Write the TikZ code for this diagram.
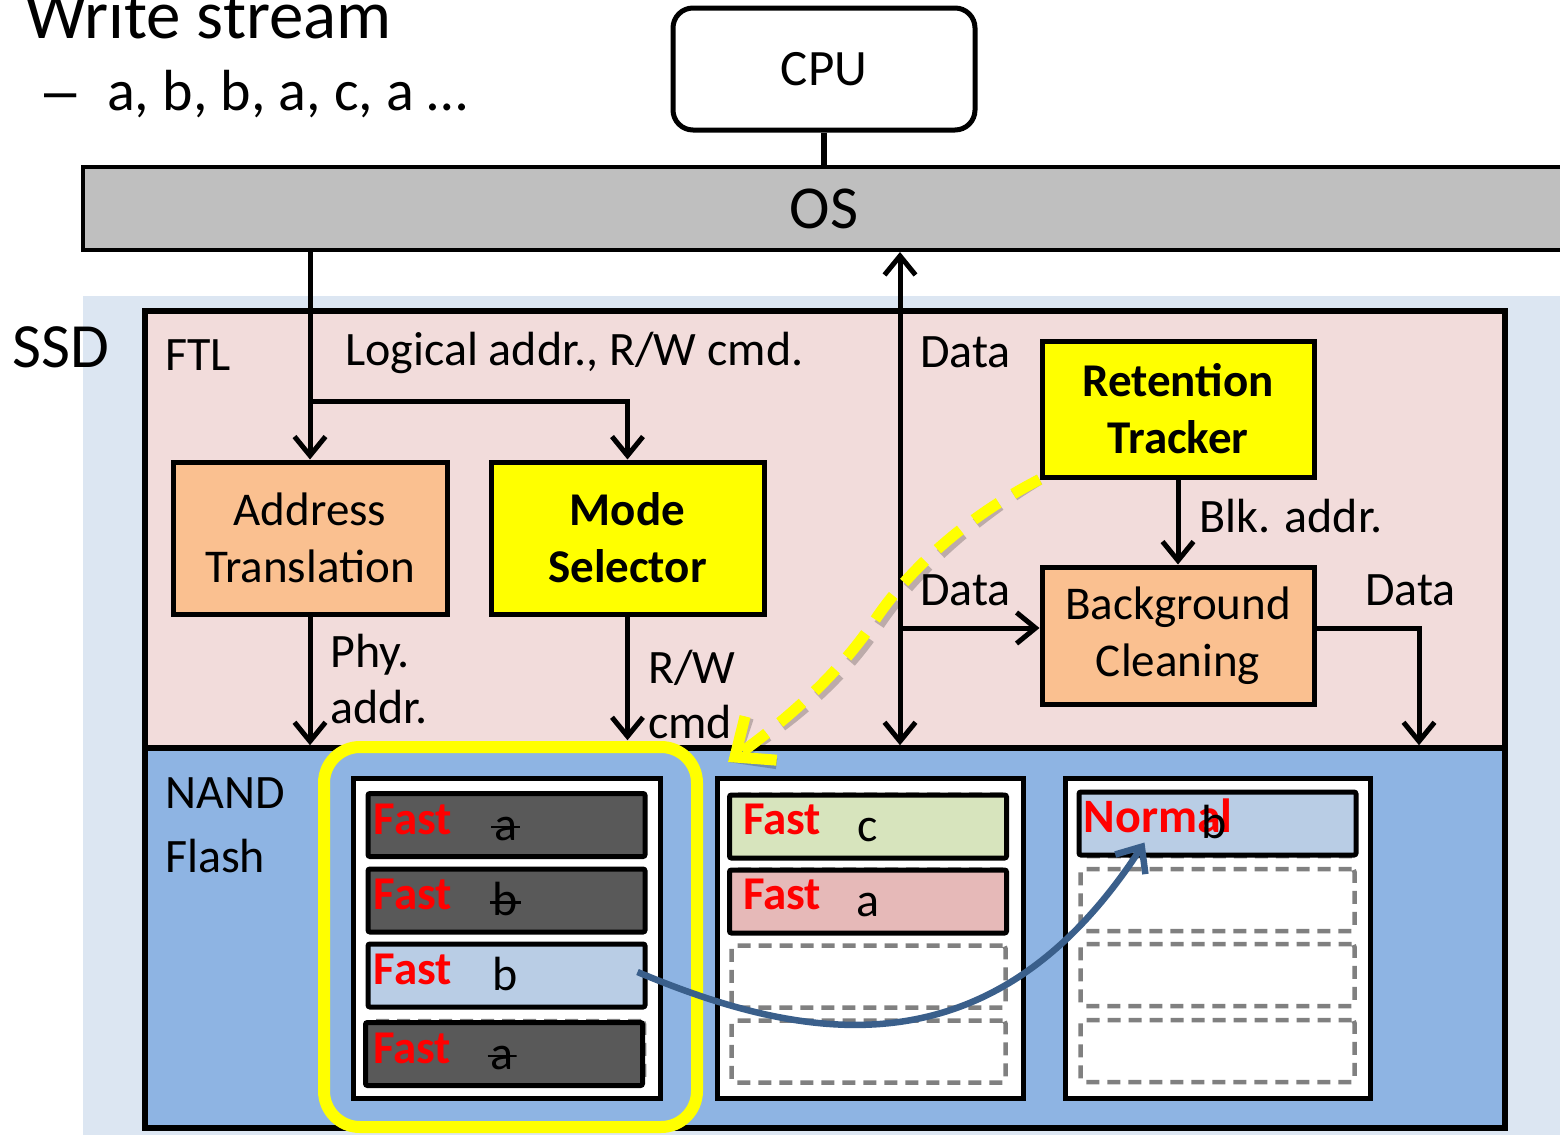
\documentclass[tikz,border=0pt]{standalone}
\usepackage{fontspec}
\setmainfont{Carlito}
\newfontfamily\bulletfont{Liberation Sans}
\usetikzlibrary{arrows.meta,calc}
\definecolor{ssdbg}{HTML}{DCE6F2}
\definecolor{ftlfill}{HTML}{F2DCDB}
\definecolor{nandfill}{HTML}{8EB4E3}
\definecolor{osfill}{HTML}{BFBFBF}
\definecolor{orangefill}{HTML}{FAC090}
\definecolor{pagedark}{HTML}{595959}
\definecolor{pageblue}{HTML}{B9CDE5}
\definecolor{pagegreen}{HTML}{D7E4BD}
\definecolor{pagepink}{HTML}{E6B9B8}
\definecolor{arrowblue}{HTML}{3A5F8B}
\definecolor{dashgray}{HTML}{808080}
\definecolor{hiyellow}{HTML}{FFFF00}
\begin{document}
\begin{tikzpicture}[x=1pt,y=-1pt,
  txt/.style={font=\fontsize{48}{58}\selectfont, inner sep=0pt, anchor=base west},
  box/.style={draw, line width=5pt, inner sep=0pt, align=center, font=\fontsize{47}{57}\selectfont},
  boldbox/.style={box, font=\fontsize{47}{57}\selectfont\bfseries},
  arr/.style={line width=5pt, -{Straight Barb[length=19pt,width=31pt]}},
  darr/.style={line width=5pt, {Straight Barb[length=19pt,width=31pt]}-{Straight Barb[length=19pt,width=31pt]}},
  blockbox/.style={draw, line width=5pt, fill=white, minimum width=#1, minimum height=320pt, inner sep=0pt},
  page/.style={draw, line width=5pt, rounded corners=2pt, minimum width=277pt, minimum height=63pt, inner sep=0pt, fill=#1},
  emptypage/.style={draw=dashgray, line width=4.5pt, dash pattern=on 13pt off 8pt, rounded corners=3pt, minimum width=274pt, minimum height=62pt, inner sep=0pt},
  fasttxt/.style={font=\fontsize{47}{56}\selectfont\bfseries, text=red, inner sep=0pt, anchor=base west},
  lettxt/.style={font=\fontsize{48}{57}\selectfont, inner sep=0pt, anchor=base},
  strike/.style={inner xsep=3pt, inner ysep=0pt, text height=26pt, text depth=0pt,
    path picture={\draw[line width=2.4pt] (path picture bounding box.west) -- (path picture bounding box.east);}},
]
\useasboundingbox (0,0) rectangle (1560,1135);
\clip (0,0) rectangle (1560,1135);
\fill[white] (0,0) rectangle (1560,1135);

% header text
\node[txt, font=\fontsize{69}{80}\selectfont] (ws) at (25,38) {Write stream};
\node[txt, font=\fontsize{58}{70}\bulletfont] (bullet) at (44,110) {–};
\node[txt, font=\fontsize{58}{70}\selectfont] (seq) at (107,110) {a, b, b, a, c, a …};

% CPU and OS
\node[draw, line width=5pt, rounded corners=20pt, minimum width=302pt, minimum height=122pt, inner sep=0pt, font=\fontsize{51}{60}\selectfont] (cpu) at (824,69) {CPU};
\node[draw, line width=4pt, fill=osfill, minimum width=1482pt, minimum height=83pt, inner sep=0pt, font=\fontsize{61}{70}\selectfont] (os) at (824,208.5) {OS};
\draw[line width=6pt] (cpu.south) -- (os.north);

% SSD
\fill[ssdbg] (83,296) rectangle (1560,1135);
\node[txt, font=\fontsize{63}{72}\selectfont] (ssd) at (12,367) {SSD};
\node[draw, line width=5.5pt, fill=ftlfill, minimum width=1360pt, minimum height=437pt, inner sep=0pt] (ftl) at (825,529.5) {};
\node[draw, line width=5.5pt, fill=nandfill, minimum width=1360pt, minimum height=380pt, inner sep=0pt] (nand) at (825,938) {};
\node[txt] (ftllbl) at (165,370) {FTL};
\node[txt] (nandlbl1) at (165,808) {NAND};
\node[txt] (nandlbl2) at (165,872) {Flash};

% FTL boxes
\node[box, fill=orangefill, minimum width=274pt, minimum height=152pt] (at) at (310,538) {Address\\Translation};
\node[boldbox, fill=hiyellow, minimum width=273pt, minimum height=152pt] (ms) at (627.5,538) {Mode\\Selector};
\node[boldbox, fill=hiyellow, minimum width=272pt, minimum height=136pt] (rt) at (1178,409) {Retention\\Tracker};
\node[box, fill=orangefill, minimum width=272pt, minimum height=137pt] (bc) at (1178,635.5) {Background\\Cleaning};

% labels
\node[txt] (lg) at (345,365) {Logical addr., R/W cmd.};
\node[txt] (d1) at (920,367) {Data};
\node[txt] (ph1) at (330,667) {Phy.};
\node[txt] (ph2) at (330,723) {addr.};
\node[txt] (rw1) at (648,683) {R/W};
\node[txt] (rw2) at (648,738) {cmd.};
\node[txt] (d2) at (920,605) {Data};
\node[txt] (blk) at (1199,532) {Blk. addr.};
\node[txt] (d3) at (1365,605) {Data};

% connectors
\coordinate (j1) at (310,401);
\coordinate (dx) at (900,0);
\coordinate (dj) at (900,628);
\coordinate (rx) at (1419,0);
\draw[arr] (os.south -| at.north) -- (at.north);
\draw[arr] (j1) -| (ms.north);
\draw[arr] (at.south) -- (at.south |- nand.north);
\draw[arr] (ms.south) -- ($(ms.south |- nand.north)+(0,-5)$);
\draw[darr] (os.south -| dx) -- (nand.north -| dx);
\draw[arr] (dj) -- (dj -| bc.west);
\draw[arr] (rt.south) -- (bc.north);
\draw[arr] (dj -| bc.east) -| (nand.north -| rx);

% highlighted block frame
\node[draw=hiyellow, line width=12pt, rounded corners=36pt, fill=nandfill, minimum width=373pt, minimum height=380pt, inner sep=0pt] (hl) at (510.5,937) {};

% blocks
\node[blockbox=307pt] (b1) at (506.5,938) {};
\node[blockbox=306pt] (b2) at (870,938) {};
\node[blockbox=305pt] (b3) at (1217.5,938) {};

% block 1 pages
\node[page=pagedark] (p11) at (506.5,825) {};
\node[page=pagedark] (p12) at (506.5,900.5) {};
\node[page=pageblue] (p13) at (506.5,975.5) {};
\node[emptypage] (p14b) at (507,1052) {};
\node[page=pagedark] (p14) at (504,1054) {};
\node[fasttxt] (f11) at ($(p11.north west)+(8,43)$) {Fast};
\node[fasttxt] (f12) at ($(p12.north west)+(8,43)$) {Fast};
\node[fasttxt] (f13) at ($(p13.north west)+(8,43)$) {Fast};
\node[fasttxt] (f14) at ($(p14.north west)+(10,43)$) {Fast};
\node[lettxt, strike] (l11) at ($(p11.north west)+(140,49)$) {a};
\node[lettxt, strike] (l12) at ($(p12.north west)+(140,49)$) {b};
\node[lettxt] (l13) at ($(p13.north west)+(140,49)$) {b};
\node[lettxt, strike] (l14) at ($(p14.north west)+(139,49)$) {a};

% block 2 pages
\node[emptypage] (p21b) at (869,825.5) {};
\node[page=pagegreen] (p21) at (868,826.5) {};
\node[emptypage] (p22b) at (869,900.5) {};
\node[page=pagepink] (p22) at (868,901.5) {};
\node[emptypage] (p23) at (868.5,976.5) {};
\node[emptypage] (p24) at (868.5,1051.5) {};
\node[fasttxt] (f21) at ($(p21.north west)+(16,42)$) {Fast};
\node[fasttxt] (f22) at ($(p22.north west)+(16,42)$) {Fast};
\node[lettxt] (l21) at ($(p21.north west)+(141,49)$) {c};
\node[lettxt] (l22) at ($(p22.north west)+(141,49)$) {a};

% block 3 pages
\node[emptypage] (p31b) at (1218,825) {};
\node[page=pageblue] (p31) at (1217.5,823.5) {};
\node[emptypage] (p32) at (1217.5,900) {};
\node[emptypage] (p33) at (1217.5,975) {};
\node[emptypage] (p34) at (1217.5,1051) {};
\node[fasttxt, font=\fontsize{48}{57}\selectfont\bfseries] (n31) at ($(p31.north west)+(7,43)$) {Normal};
\node[lettxt] (l31) at ($(p31.north west)+(138,49)$) {b};

% migration arrow
\draw[line width=6.5pt, arrowblue, -{Straight Barb[length=21pt,width=36pt]}]
  ($(p13.east)+(-10,-3.5)$) .. controls (800,1040) and (990,1080) .. ($(p31.south west)+(68,-15)$);

% retention tracker pointer (dashed yellow)
\coordinate (ytip) at (728,762);
\begin{scope}[shift={(4,5)}]
\draw[black, opacity=0.22, line width=11pt, dash pattern=on 30pt off 17pt, -{Straight Barb[length=32pt,width=54pt]}]
  (rt.south west) .. controls (960,520) and (905,575) .. (875,620) .. controls (845,665) and (800,710) .. (ytip);
\end{scope}
\draw[hiyellow, line width=11pt, dash pattern=on 30pt off 17pt, -{Straight Barb[length=32pt,width=54pt]}]
  (rt.south west) .. controls (960,520) and (905,575) .. (875,620) .. controls (845,665) and (800,710) .. (ytip);
\end{tikzpicture}
\end{document}
